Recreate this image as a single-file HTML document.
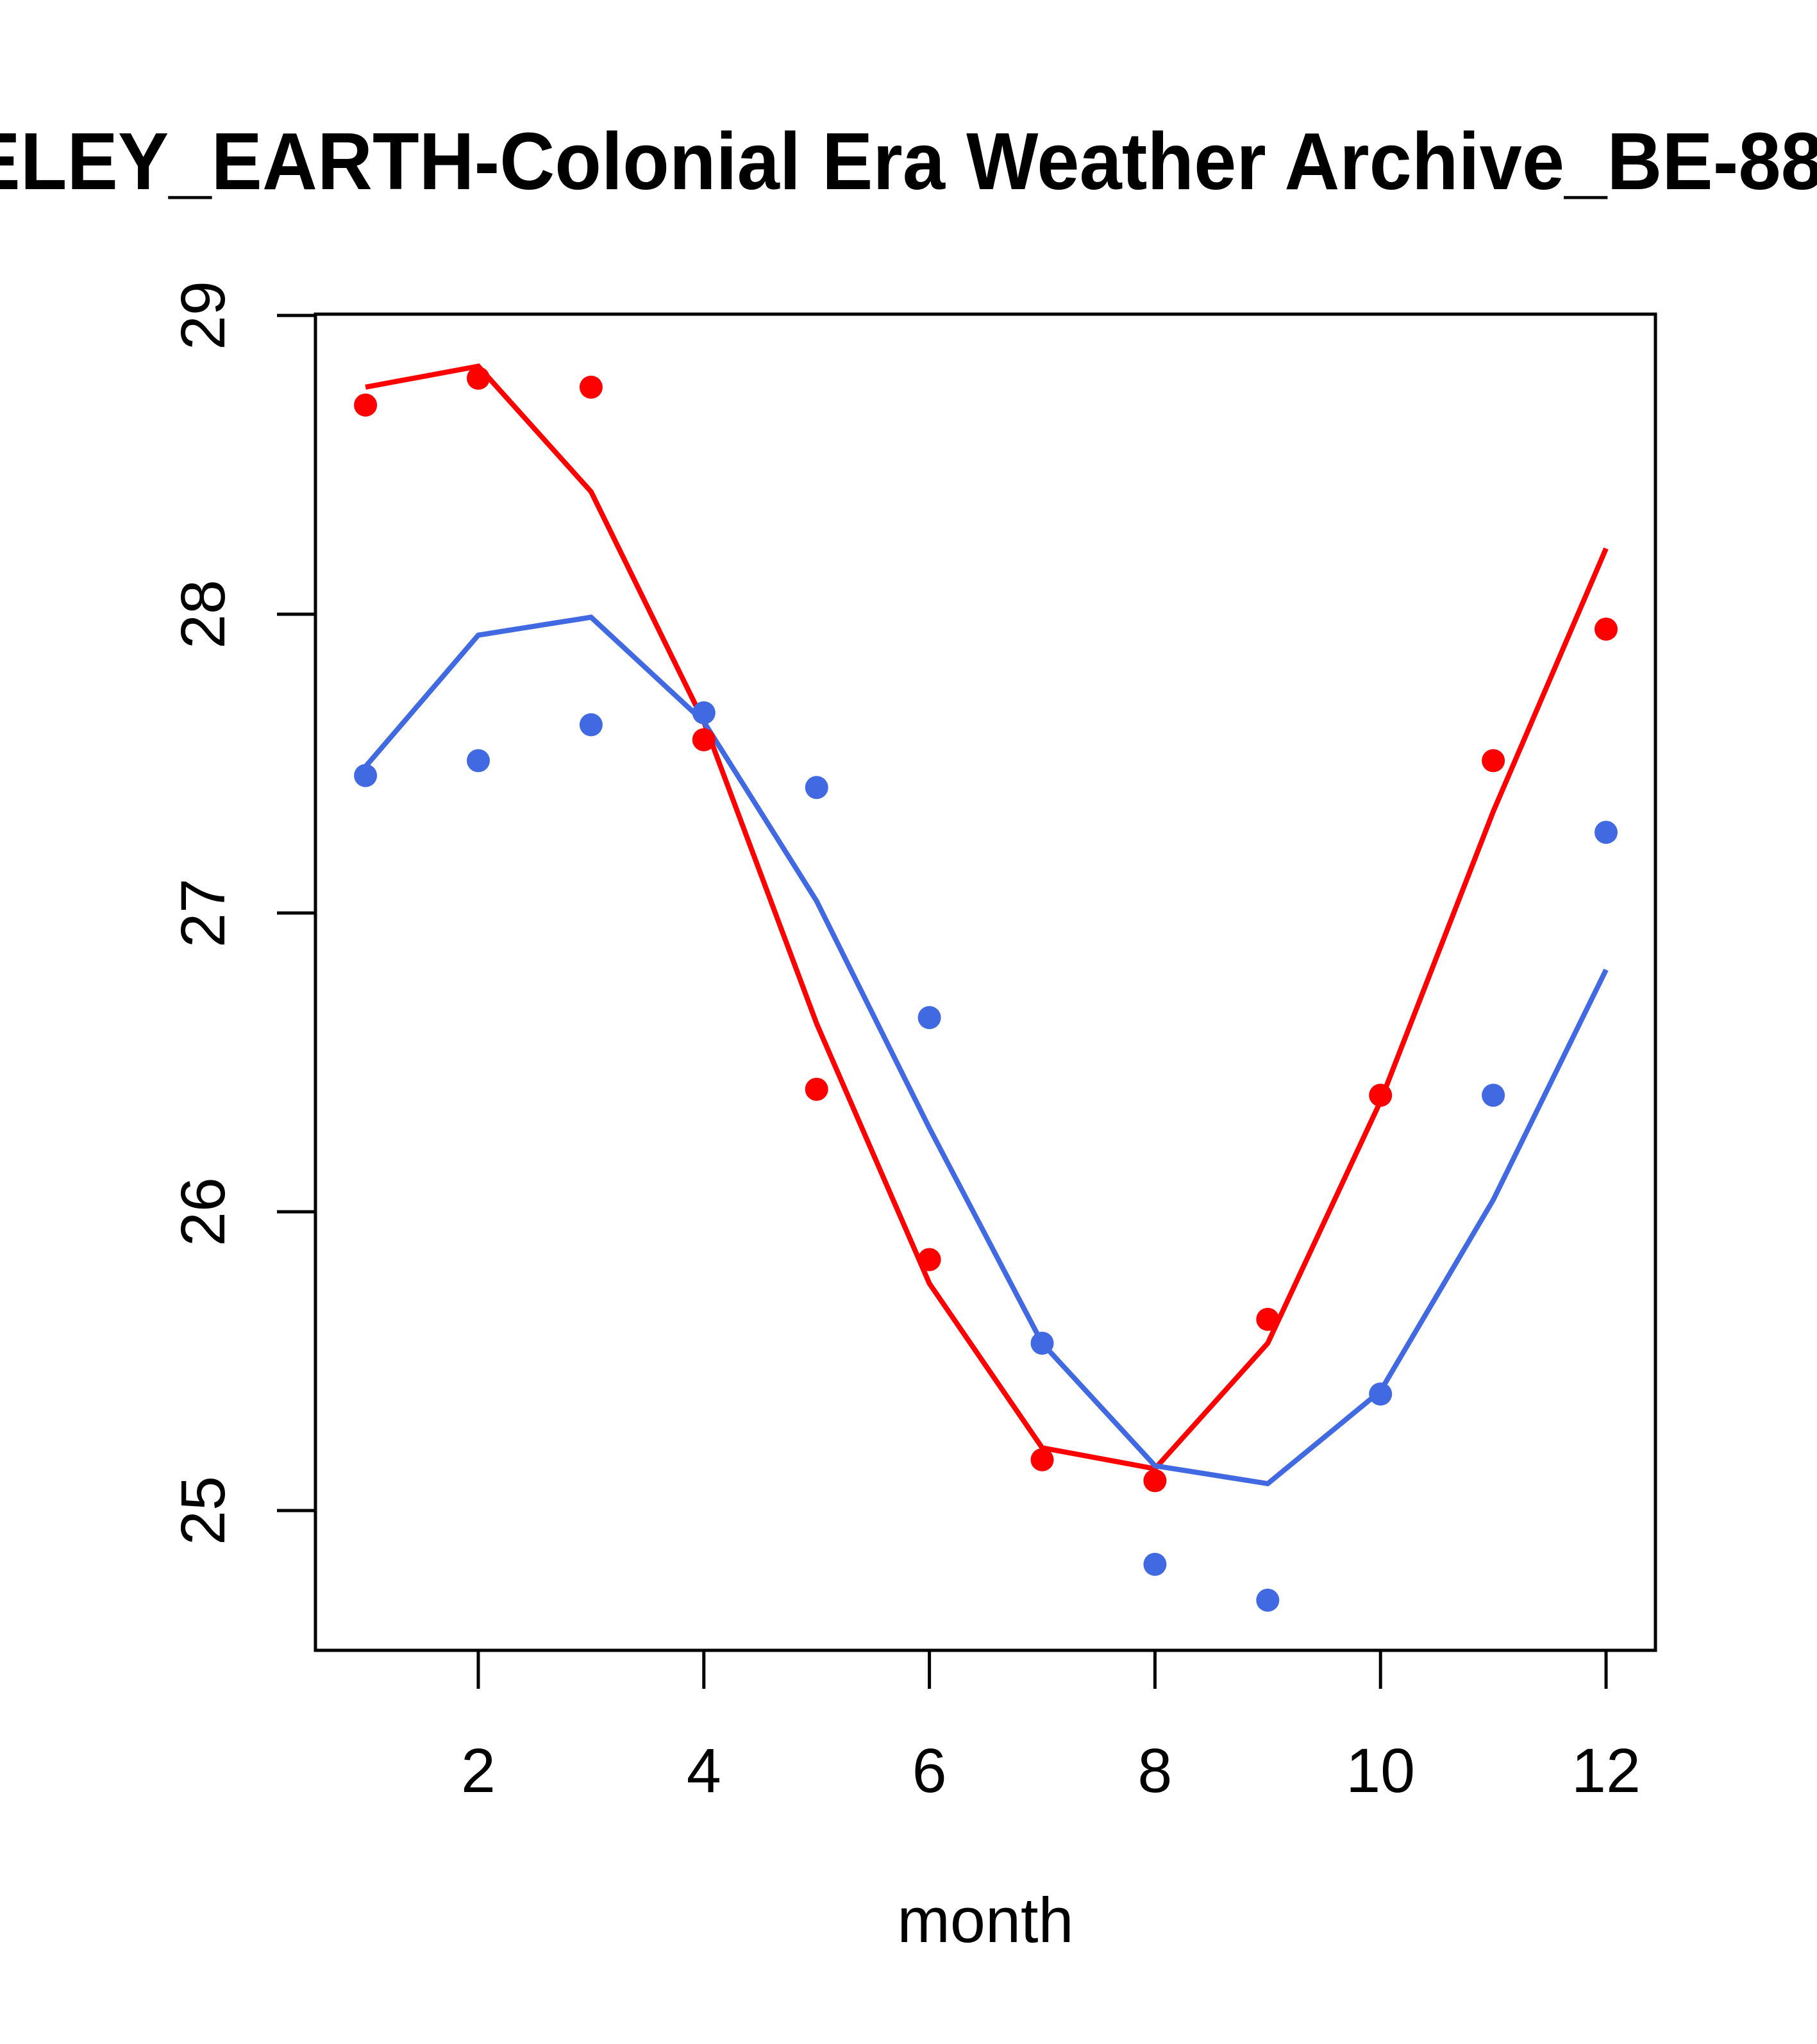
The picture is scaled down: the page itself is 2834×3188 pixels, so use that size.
<!DOCTYPE html>
<html><head><meta charset="utf-8"><style>html,body{margin:0;padding:0;background:#fff}svg{display:block}</style></head>
<body>
<svg id="chart" width="2834" height="3188" xmlns="http://www.w3.org/2000/svg" font-family="Liberation Sans, sans-serif">
<rect width="2834" height="3188" fill="#fff"/>
<text transform="translate(-385,295) scale(0.945,1)" x="0" y="0" font-size="126" font-weight="bold" text-anchor="start">BERKELEY_EARTH-Colonial Era Weather Archive_BE-8888</text>
<rect x="492" y="490" width="2090" height="2084" fill="none" stroke="#000" stroke-width="5"/>
<g id="axes"></g>
<g id="series"></g>
<text x="1537" y="3029" font-size="99" text-anchor="middle">month</text>
</svg>
<script>
const months=[1,2,3,4,5,6,7,8,9,10,11,12];
const redPoints=[28.70,28.79,28.76,27.58,26.41,25.84,25.17,25.10,25.64,26.39,27.51,27.95];
const redLine=[28.76,28.83,28.41,27.64,26.63,25.76,25.21,25.14,25.56,26.37,27.34,28.22];
const bluePoints=[27.46,27.51,27.63,27.67,27.42,26.65,25.56,24.82,24.70,25.39,26.39,27.27];
const blueLine=[27.49,27.93,27.99,27.64,27.04,26.28,25.56,25.15,25.09,25.40,26.04,26.81];
const xTicks=[2,4,6,8,10,12];
const yTicks=[25,26,27,28,29];
const NS='http://www.w3.org/2000/svg';
function X(m){return 746+(m-2)*(2505-746)/10;}
function Y(v){return 2356-(v-25)*(2356-492)/4;}
function mk(t,a,p){const e=document.createElementNS(NS,t);for(const k in a)e.setAttribute(k,a[k]);p.appendChild(e);return e;}
const ax=document.getElementById('axes');
xTicks.forEach(t=>{
 const l=mk('line',{x1:X(t),x2:X(t),y1:2574,y2:2634,stroke:'#000','stroke-width':5},ax);
 
 
 const tx=mk('text',{x:X(t),y:2795,'font-size':97,'text-anchor':'middle'},ax);
 tx.textContent=t;
 
 
});
yTicks.forEach(t=>{
 const l=mk('line',{x1:432,x2:492,y1:Y(t),y2:Y(t),stroke:'#000','stroke-width':5},ax);
 
 
 const tx=mk('text',{x:0,y:0,'font-size':97,'text-anchor':'middle',transform:`translate(350,${Y(t)}) rotate(-90)`},ax);
 tx.textContent=t;
 
 
});
const sg=document.getElementById('series');
function line(vals,color,name){
 const p=mk('polyline',{points:months.map((m,i)=>X(m)+','+Y(vals[i])).join(' '),fill:'none',stroke:color,'stroke-width':8},sg);
 
 
}
function pts(vals,color,name){
 months.forEach((m,i)=>{
  const c=mk('circle',{cx:X(m),cy:Y(vals[i]),r:18,fill:color},sg);
  
  
 });
}
line(redLine,'#ff0000','red-line');
line(blueLine,'#4169e1','blue-line');
pts(redPoints,'#ff0000','red-point');
pts(bluePoints,'#4169e1','blue-point');
</script>
</body></html>
